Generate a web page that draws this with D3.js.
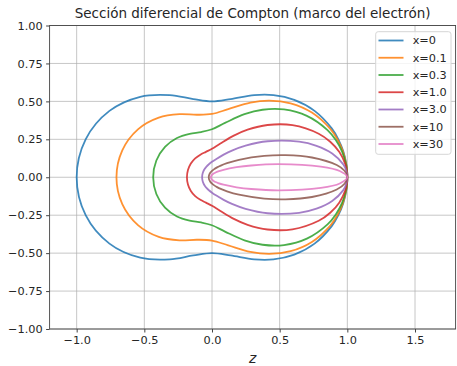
<!DOCTYPE html>
<html>
<head>
<meta charset="utf-8">
<script src="https://cdn.jsdelivr.net/npm/d3@7"></script>
<style>
  body { margin: 0; background: #fff; }
  svg { display: block; font-family: "DejaVu Sans", sans-serif; }
</style>
</head>
<body>
<div id="chart"></div>
<script>
// scattering angle (degrees) at which each radius was read
const angles = [0, 2.5, 5, 10, 15, 20, 30, 40, 50, 60, 75, 90, 105, 120, 135, 150, 165, 180];

// relative cross-section (radius) for each curve, upper half
const r_x0   = [1, 0.9990, 0.9962, 0.9849, 0.9665, 0.9415, 0.8750, 0.7934, 0.7066, 0.6250, 0.5335, 0.5000, 0.5335, 0.6250, 0.7500, 0.8750, 0.9665, 1];
const r_x01  = [1, 0.9989, 0.9954, 0.9819, 0.9600, 0.9303, 0.8521, 0.7578, 0.6593, 0.5680, 0.4646, 0.4170, 0.4264, 0.4800, 0.5563, 0.6319, 0.6863, 0.7060];
const r_x03  = [1, 0.9985, 0.9939, 0.9760, 0.9471, 0.9085, 0.8094, 0.6948, 0.5807, 0.4800, 0.3706, 0.3163, 0.3084, 0.3305, 0.3659, 0.4009, 0.4257, 0.4346];
const r_x1   = [1, 0.9971, 0.9887, 0.9558, 0.9044, 0.8390, 0.6866, 0.5356, 0.4091, 0.3148, 0.2280, 0.1875, 0.1733, 0.1720, 0.1758, 0.1805, 0.1839, 0.1852];
const r_x3   = [1, 0.9934, 0.9739, 0.9018, 0.7995, 0.6851, 0.4745, 0.3239, 0.2292, 0.1720, 0.1251, 0.1016, 0.0888, 0.0815, 0.0772, 0.0746, 0.0733, 0.0729];
const r_x10  = [1, 0.9803, 0.9252, 0.7498, 0.5618, 0.4105, 0.2299, 0.1446, 0.1006, 0.0752, 0.0537, 0.0417, 0.0345, 0.0299, 0.0270, 0.0252, 0.0242, 0.0239];
const r_x30  = [1, 0.9447, 0.8072, 0.4984, 0.2995, 0.1931, 0.0986, 0.0601, 0.0409, 0.0299, 0.0207, 0.0156, 0.0126, 0.0107, 0.0095, 0.0087, 0.0083, 0.0082];

const labels = ["x=0", "x=0.1", "x=0.3", "x=1.0", "x=3.0", "x=10", "x=30"];
const radii = [r_x0, r_x01, r_x03, r_x1, r_x3, r_x10, r_x30];
const colors = ["#1f77b4", "#ff7f0e", "#2ca02c", "#d62728", "#9467bd", "#8c564b", "#e377c2"];

const xTicks = [-1.0, -0.5, 0.0, 0.5, 1.0, 1.5];
const yTicks = [-1.0, -0.75, -0.5, -0.25, 0.0, 0.25, 0.5, 0.75, 1.0];

const W = 457, H = 366;
const plotLeft = 49.6, plotRight = 455.6, plotTop = 25.5, plotBottom = 329;

const svg = d3.select("#chart").append("svg")
    .attr("width", W).attr("height", H);

const x = d3.scaleLinear().domain([-1.2, 1.8]).range([plotLeft, plotRight]);
const y = d3.scaleLinear().domain([-1, 1]).range([plotBottom, plotTop]);

const minus = s => s.replace("-", "\u2212");

// grid
svg.append("g").selectAll("line").data(xTicks).enter().append("line")
    .attr("x1", d => x(d)).attr("x2", d => x(d))
    .attr("y1", plotTop).attr("y2", plotBottom)
    .attr("stroke", "#b0b0b0").attr("stroke-width", 1).attr("opacity", 0.7);
svg.append("g").selectAll("line").data(yTicks).enter().append("line")
    .attr("x1", plotLeft).attr("x2", plotRight)
    .attr("y1", d => y(d)).attr("y2", d => y(d))
    .attr("stroke", "#b0b0b0").attr("stroke-width", 1).attr("opacity", 0.7);

// curves: upper half from the data, lower half is its mirror image
const line = d3.line()
    .x(d => x(d[0]))
    .y(d => y(d[1]))
    .curve(d3.curveCatmullRomClosed);

radii.forEach((r, i) => {
    const upper = angles.map((a, j) => {
        const t = a * Math.PI / 180;
        return [r[j] * Math.cos(t), r[j] * Math.sin(t)];
    });
    const lower = upper.slice(1, -1).reverse().map(p => [p[0], -p[1]]);
    svg.append("path")
        .attr("d", line(upper.concat(lower)))
        .attr("fill", "none")
        .attr("stroke", colors[i])
        .attr("stroke-width", 1.8)
        .attr("opacity", 0.85);
});

// frame
svg.append("rect")
    .attr("x", plotLeft).attr("y", plotTop)
    .attr("width", plotRight - plotLeft).attr("height", plotBottom - plotTop)
    .attr("fill", "none").attr("stroke", "#444").attr("stroke-width", 0.9);

// axes
const xAxis = svg.append("g")
    .attr("transform", "translate(0," + plotBottom + ")")
    .call(d3.axisBottom(x).tickValues(xTicks).tickFormat(d => minus(d3.format(".1f")(d)))
        .tickSize(3.5).tickPadding(3.5));
const yAxis = svg.append("g")
    .attr("transform", "translate(" + plotLeft + ",0)")
    .call(d3.axisLeft(y).tickValues(yTicks).tickFormat(d => minus(d3.format(".2f")(d)))
        .tickSize(3.5).tickPadding(3.5));
[xAxis, yAxis].forEach(g => {
    g.select(".domain").remove();
    g.selectAll("line").attr("stroke", "#444");
    g.selectAll("text").attr("fill", "#262626")
        .style("font-size", "11.3px").style("font-family", "DejaVu Sans");
});

// title and axis label
svg.append("text")
    .attr("x", (plotLeft + plotRight) / 2).attr("y", 18)
    .attr("text-anchor", "middle")
    .attr("fill", "#262626")
    .style("font-size", "13.5px")
    .text("Sección diferencial de Compton (marco del electrón)");

svg.append("text")
    .attr("x", (plotLeft + plotRight) / 2).attr("y", 363)
    .attr("text-anchor", "middle")
    .attr("fill", "#262626")
    .style("font-size", "14px").style("font-style", "italic")
    .text("z");

// legend
const legend = svg.append("g");
legend.append("rect")
    .attr("x", 375.7).attr("y", 31.7)
    .attr("width", 75.3).attr("height", 122.6)
    .attr("rx", 2.5)
    .attr("fill", "#fff").attr("fill-opacity", 0.8)
    .attr("stroke", "#d6d6d6").attr("stroke-width", 1);

const ly = d3.scaleLinear().domain([0, labels.length - 1]).range([40.5, 144]);
labels.forEach((lab, i) => {
    legend.append("line")
        .attr("x1", 378.5).attr("x2", 403.5)
        .attr("y1", ly(i)).attr("y2", ly(i))
        .attr("stroke", colors[i]).attr("stroke-width", 1.8).attr("opacity", 0.85);
    legend.append("text")
        .attr("x", 412.7).attr("y", ly(i))
        .attr("dy", "0.35em")
        .attr("fill", "#262626")
        .style("font-size", "11.3px")
        .text(lab);
});
</script>
</body>
</html>
